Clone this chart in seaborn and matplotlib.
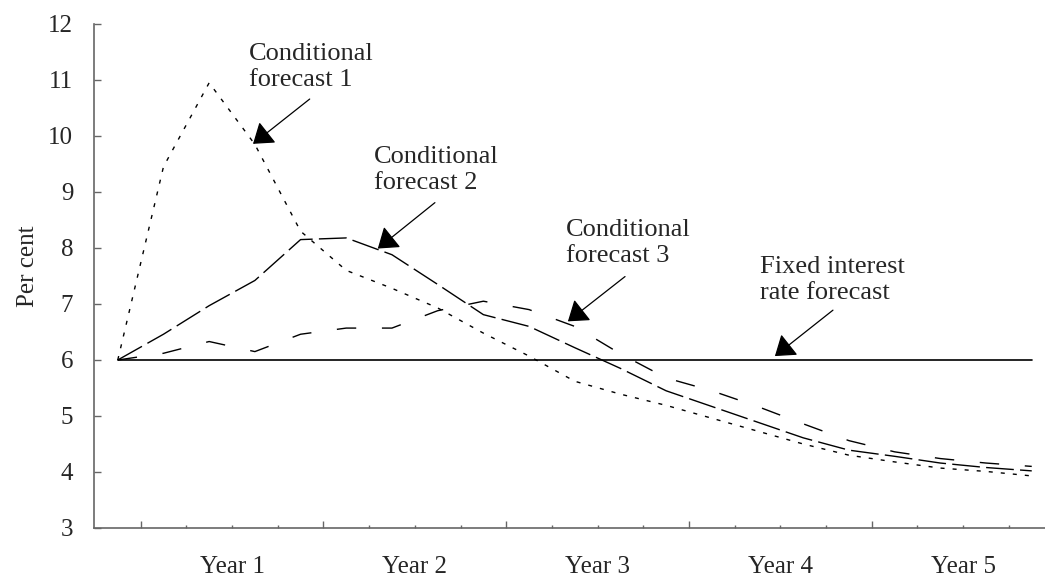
import numpy as np
import pandas as pd
import matplotlib
matplotlib.use("Agg")
import matplotlib.pyplot as plt
import seaborn as sns

# quarterly steps, 0 = starting quarter
quarters = list(range(21))
forecast_1 = [6.0, 9.45, 10.95, 9.85, 8.3, 7.6, 7.28, 6.93, 6.48, 6.07, 5.62,
              5.39, 5.19, 4.96, 4.73, 4.5, 4.3, 4.18, 4.07, 4.01, 3.93]
forecast_2 = [6.0, 6.46, 6.97, 7.42, 8.15, 8.18, 7.88, 7.35, 6.81, 6.6, 6.22,
              5.85, 5.45, 5.17, 4.89, 4.61, 4.39, 4.28, 4.16, 4.08, 4.02]
forecast_3 = [6.0, 6.12, 6.33, 6.15, 6.46, 6.57, 6.57, 6.88, 7.05, 6.9, 6.6,
              6.11, 5.68, 5.45, 5.17, 4.86, 4.56, 4.36, 4.24, 4.16, 4.1]
fixed_rate = [6.0, 6.0, 6.0, 6.0, 6.0, 6.0, 6.0, 6.0, 6.0, 6.0, 6.0,
              6.0, 6.0, 6.0, 6.0, 6.0, 6.0, 6.0, 6.0, 6.0, 6.0]
year_labels = ["Year 1", "Year 2", "Year 3", "Year 4", "Year 5"]
year_mids = [2.5, 6.5, 10.5, 14.5, 18.5]
year_bounds = [0.5, 4.5, 8.5, 12.5, 16.5]
quarter_bounds = [q + 0.5 for q in quarters[:-1]]

df = pd.DataFrame({
    "quarter": quarters * 4,
    "value": forecast_1 + forecast_2 + forecast_3 + fixed_rate,
    "series": (["Conditional forecast 1"] * 21 + ["Conditional forecast 2"] * 21
               + ["Conditional forecast 3"] * 21 + ["Fixed interest rate forecast"] * 21),
})

sns.set_theme(style="white")
plt.rcParams["font.family"] = ["Liberation Serif", "DejaVu Serif"]
plt.rcParams["lines.scale_dashes"] = False

fig = plt.figure(figsize=(10.45, 5.79), dpi=100)
ax = fig.add_axes([94 / 1045, 51 / 579, 1 - 94 / 1045, 504 / 579])

styles = {
    "Conditional forecast 1": dict(linestyle=(0, (2.9, 5.8)), linewidth=1.0),
    "Conditional forecast 2": dict(linestyle=(0, (20, 4.5)), linewidth=1.0),
    "Conditional forecast 3": dict(linestyle=(0, (14, 18.5)), linewidth=1.0),
    "Fixed interest rate forecast": dict(linestyle="-", linewidth=1.2),
}
for name, kw in styles.items():
    sns.lineplot(data=df[df["series"] == name], x="quarter", y="value",
                 color="black", ax=ax, legend=False, **kw)

ax.set_xlim(-0.52, 20.29)
ax.set_ylim(3, 12)
ax.set_yticks(range(3, 13))
ax.set_yticklabels([str(v) for v in range(3, 13)])
ax.set_xticks(year_bounds)
ax.set_xticklabels([])
ax.set_xticks(quarter_bounds, minor=True)
ax.tick_params(axis="y", direction="in", length=5, width=1, color="#666666",
               pad=15, labelsize=18, left=True)
ax.tick_params(axis="x", which="major", direction="in", length=5, width=1,
               color="#666666", bottom=True)
ax.tick_params(axis="x", which="minor", direction="in", length=2, width=1,
               color="#666666", bottom=True)

sec = ax.secondary_xaxis("bottom")
sec.set_xticks(year_mids)
sec.set_xticklabels(year_labels)
sec.tick_params(length=0, pad=20, labelsize=18)
sec.spines["bottom"].set_visible(False)

for side in ["top", "right"]:
    ax.spines[side].set_visible(False)
for side in ["left", "bottom"]:
    ax.spines[side].set_color("#666666")
    ax.spines[side].set_linewidth(1.2)

ax.set_xlabel("")
ax.set_ylabel("Per cent", fontsize=18)
ax.yaxis.set_label_coords(-0.058, 0.52)

notes = [
    ("Conditional\nforecast 1", (2.87, 11.23), (4.20, 10.66), (2.96, 9.86)),
    ("Conditional\nforecast 2", (5.60, 9.39), (6.94, 8.81), (5.69, 7.99)),
    ("Conditional\nforecast 3", (9.81, 8.09), (11.10, 7.49), (9.85, 6.69)),
    ("Fixed interest\nrate forecast", (14.05, 7.43), (15.65, 6.89), (14.38, 6.07)),
]
for text, pos, start, tip in notes:
    ax.text(pos[0], pos[1], text, ha="left", va="center", fontsize=19,
            linespacing=1.2)
    ax.annotate("", xy=tip, xytext=start,
                arrowprops=dict(arrowstyle="-|>,head_length=0.6,head_width=0.42",
                                mutation_scale=20, color="black", lw=0.9,
                                shrinkA=0, shrinkB=0))

fig.savefig("out.png", dpi=100)
